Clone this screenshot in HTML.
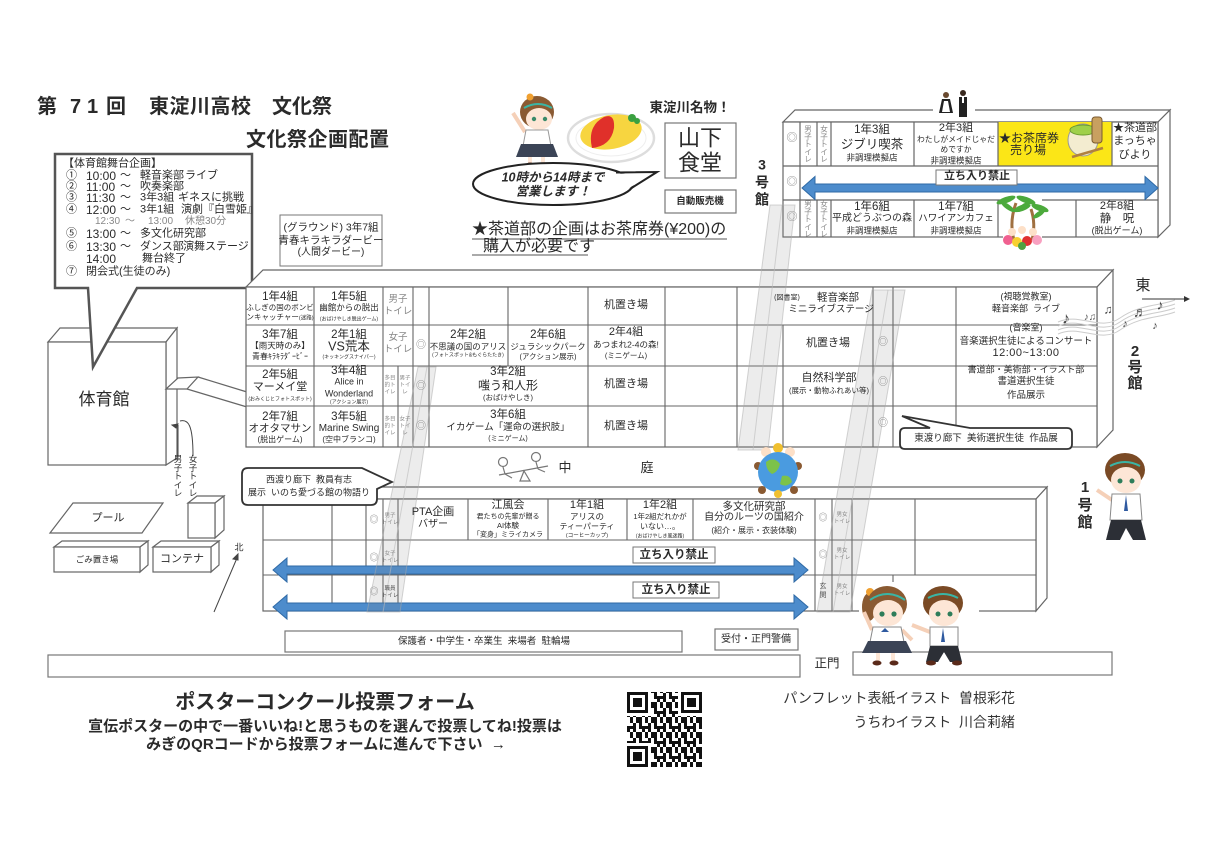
<!DOCTYPE html>
<html><head><meta charset="utf-8">
<style>
*{margin:0;padding:0;box-sizing:border-box}
body{width:1225px;height:862px;overflow:hidden;position:relative;background:#fff;font-family:"Liberation Sans","Noto Sans CJK JP",sans-serif;color:#2a2a2a}
svg{position:absolute;left:0;top:0}
.t{position:absolute;transform:translate(-50%,-50%);white-space:nowrap;line-height:1.05;text-align:center}
.l{position:absolute;transform:translateY(-50%);white-space:nowrap;line-height:1}
.r{position:absolute;transform:translate(-100%,-50%);white-space:nowrap;line-height:1}
.b{font-weight:bold}
.g{color:#888}
.v{position:absolute;transform:translate(-50%,-50%);line-height:1;text-align:center;white-space:nowrap}
</style></head><body>
<svg width="1225" height="862" viewBox="0 0 1225 862">
<defs>
<pattern id="qrp" width="15" height="15" patternUnits="userSpaceOnUse">
<rect width="15" height="15" fill="#fff"/>
<path d="M0 0h3v3H0zM6 0h6v3H6zM3 3h3v3H3zM9 3h3v6H9zM0 6h6v3H0zM12 6h3v3h-3zM3 9h3v3H3zM6 12h6v3H6zM12 9h3v3h-3zM0 12h3v3H0z" fill="#111"/>
</pattern>
</defs>

<!-- gym -->
<g stroke="#666" stroke-width="1.2" fill="#fff">
<polygon points="48,342 60,328 177,328 166,342"/>
<polygon points="166,342 177,328 177,458 166,465"/>
<rect x="48" y="342" width="118" height="123"/>
<polygon points="166,389 178,378 198,377 187,389"/>
<line x1="198" y1="377" x2="247" y2="392"/>
<line x1="187" y1="389" x2="247" y2="407"/>
<polygon points="50,533 73,503 163,503 142,533"/>
<polygon points="188,503 197,496 224,496 215,503"/>
<polygon points="215,503 224,496 224,530 215,538"/>
<rect x="188" y="503" width="27" height="35"/>
<polygon points="54,547 62,541 148,541 140,547"/>
<polygon points="140,547 148,541 148,565 140,572"/>
<rect x="54" y="547" width="86" height="25"/>
<polygon points="153,547 161,541 219,541 211,547"/>
<polygon points="211,547 219,541 219,565 211,572"/>
<rect x="153" y="547" width="58" height="25"/>
</g>
<g stroke="#444" stroke-width="1" fill="none">
<path d="M178,456 L178,425"/><path d="M178,424 l-6,1 l4,3 z" fill="#444"/>
<path d="M193,456 C193,424 188,419 180,421"/>
<path d="M214,612 L237,558"/><path d="M238,554 l-5,5 l5,1 z" fill="#444"/>
</g>

<!-- schedule bubble -->
<path d="M88,288 H55 V154 H252 V288 H137 L93,367 Z" fill="#fff" stroke="#555" stroke-width="2.5"/>
<rect x="280" y="215" width="102" height="51" fill="#fff" stroke="#777" stroke-width="1"/>

<!-- building 3 -->
<g stroke="#666" stroke-width="1.2" fill="#fff">
<polygon points="783,122 795,110 1170,110 1158,122"/>
<polygon points="1158,122 1170,110 1170,225 1158,237"/>
<rect x="783" y="122" width="375" height="115"/>
</g>
<rect x="998" y="122" width="114" height="44" fill="#fbe617"/>
<g stroke="#666" stroke-width="1.2" fill="none">
<path d="M783,166H1158M783,200H1158"/>
<path d="M800,122V237M817,122V166M831,122V166M914,122V166M998,122V166M1112,122V166"/>
<path d="M817,200V237M831,200V237M914,200V237M998,200V237M1076,200V237"/>
</g>
<rect x="933" y="106" width="42" height="8" fill="#fff"/>
<rect x="1003" y="197" width="39" height="6" fill="#fff"/>
<rect x="1003" y="234" width="39" height="6" fill="#fff"/>
<polygon points="802,188 815,176.5 815,184 1145,184 1145,176.5 1158,188 1145,199.5 1145,192 815,192 815,199.5" fill="#4d8ccc" stroke="#2f6aa6" stroke-width="1"/>
<rect x="936" y="170" width="81" height="15" fill="#fff" stroke="#777" stroke-width="1"/>
<!-- maid & butler -->
<circle cx="946" cy="95" r="3" fill="#6a4a30"/>
<path d="M942,99 H950 L953,113 H939 Z" fill="#222"/>
<path d="M944,101 H948 L950,112 H942 Z" fill="#fff"/>
<circle cx="963" cy="93" r="3" fill="#3a2a20"/>
<rect x="959" y="97" width="8" height="20" fill="#222"/>
<rect x="962" y="97" width="2" height="6" fill="#fff"/>
<!-- matcha -->
<ellipse cx="1083" cy="140" rx="15" ry="16" fill="#f3ecd0" stroke="#999"/>
<ellipse cx="1083" cy="130" rx="13" ry="5" fill="#9fd04a" stroke="#6a9a30"/>
<rect x="1092" y="117" width="10" height="26" rx="3" fill="#c8a060" stroke="#7a5a30"/>
<line x1="1072" y1="157" x2="1103" y2="148" stroke="#b08040" stroke-width="2.5"/>
<!-- palms -->
<g>
<path d="M1014,240 Q1009,222 1016,203" stroke="#a07040" stroke-width="3" fill="none"/>
<path d="M1032,240 Q1036,224 1031,209" stroke="#a07040" stroke-width="3" fill="none"/>
<g fill="#4caa3c">
<ellipse cx="1006" cy="200" rx="10" ry="3" transform="rotate(-20 1006 200)"/>
<ellipse cx="1026" cy="200" rx="10" ry="3" transform="rotate(20 1026 200)"/>
<ellipse cx="1008" cy="207" rx="8" ry="2.5" transform="rotate(35 1008 207)"/>
<ellipse cx="1023" cy="207" rx="8" ry="2.5" transform="rotate(-35 1023 207)"/>
<ellipse cx="1022" cy="208" rx="9" ry="3" transform="rotate(-20 1022 208)"/>
<ellipse cx="1040" cy="208" rx="9" ry="3" transform="rotate(20 1040 208)"/>
<ellipse cx="1039" cy="214" rx="7" ry="2.5" transform="rotate(-35 1039 214)"/>
</g>
<circle cx="1012" cy="232" r="4" fill="#fde0c8"/><circle cx="1022" cy="230" r="4" fill="#fde0c8"/><circle cx="1033" cy="232" r="4" fill="#fde0c8"/>
<circle cx="1008" cy="240" r="5" fill="#f06090"/><circle cx="1017" cy="242" r="5" fill="#f8d030"/><circle cx="1027" cy="241" r="5" fill="#e03030"/><circle cx="1037" cy="240" r="5" fill="#f8a0c0"/><circle cx="1022" cy="246" r="4" fill="#50a040"/>
</g>

<!-- main building -->
<g stroke="#666" stroke-width="1.2" fill="#fff">
<polygon points="246,287 263,270 1113,270 1097,287"/>
<polygon points="1097,287 1113,270 1113,430 1097,447"/>
<rect x="246" y="287" width="851" height="160"/>
</g>
<g stroke="#666" stroke-width="1.1" fill="none">
<path d="M246,325H1097M246,366H1097M246,406H1097"/>
<path d="M314,287V447M383,287V447M413,287V447M429,287V447M398,366V447M508,287V366M588,287V447M665,287V447M737,287V447M783,325V447M873,287V447M893,287V447M956,287V447"/>
</g>

<!-- east bubble -->
<path d="M905,428 H930 L902,416 L970,428 H1067 Q1072,428 1072,433 V444 Q1072,449 1067,449 H905 Q900,449 900,444 V433 Q900,428 905,428 Z" fill="#fff" stroke="#333" stroke-width="1.8"/>

<!-- east arrow & music -->
<line x1="1142" y1="299" x2="1186" y2="299" stroke="#333" stroke-width="1"/>
<path d="M1190,299 l-6,-3 v6 z" fill="#333"/>
<g stroke="#ccc" stroke-width="1" fill="none">
<path d="M1058,322 C1080,312 1100,332 1120,318 S1160,306 1175,300"/>
<path d="M1058,326 C1080,316 1100,336 1120,322 S1160,310 1175,304"/>
<path d="M1058,330 C1080,320 1100,340 1120,326 S1160,314 1175,308"/>
<path d="M1058,334 C1080,324 1100,344 1120,330 S1160,318 1175,312"/>
</g>

<!-- bottom building -->
<g stroke="#666" stroke-width="1.2" fill="#fff">
<polygon points="263,499 275,487 1047,487 1036,499"/>
<polygon points="1036,499 1047,487 1047,598 1036,611"/>
<rect x="263" y="499" width="773" height="112"/>
</g>
<rect x="859" y="608" width="120" height="6" fill="#fff"/>
<g stroke="#666" stroke-width="1.1" fill="none">
<path d="M263,540H1036M263,575H1036"/>
<path d="M332,499V611M366,499V611M383,499V611M398,499V611M815,499V611M832,499V611M852,499V611"/>
<path d="M468,499V540M548,499V540M627,499V540M693,499V540M915,499V575M893,575V582"/>
</g>
<polygon points="273,570 287,558 287,566 794,566 794,558 808,570 794,582 794,574 287,574 287,582" fill="#4d8ccc" stroke="#2f6aa6" stroke-width="1"/>
<polygon points="273,607 287,595 287,603 794,603 794,595 808,607 794,619 794,611 287,611 287,619" fill="#4d8ccc" stroke="#2f6aa6" stroke-width="1"/>
<rect x="633" y="547" width="82" height="16" fill="#fff" stroke="#777"/>
<rect x="633" y="582" width="86" height="16" fill="#fff" stroke="#777"/>

<!-- west bubble -->
<path d="M248,468 H362 L392,482 L377,489 V499 Q377,505 371,505 H248 Q242,505 242,499 V474 Q242,468 248,468 Z" fill="#fff" stroke="#333" stroke-width="1.8"/>

<!-- bottom boxes -->
<g stroke="#777" stroke-width="1.2" fill="#fff">
<rect x="285" y="631" width="397" height="21"/>
<rect x="715" y="629" width="83" height="21"/>
<rect x="48" y="655" width="752" height="22"/>
<rect x="853" y="652" width="259" height="23"/>
</g>

<!-- gray bands -->
<g fill="#8a8a8a" fill-opacity="0.16" stroke="#aaa" stroke-opacity="0.5" stroke-width="1">
<polygon points="770,205 795,205 768,450 738,450"/>
<polygon points="872,290 905,290 850,612 817,612"/>
<polygon points="418,367 436,367 400,612 367,612"/>
</g>
<g stroke="#bbb" stroke-opacity="0.6" fill="none">
<path d="M782,205 L753,450M888,290 L833,612M427,367 L383,612"/>
</g>

<!-- top girl -->
<g>
<ellipse cx="537" cy="112" rx="17" ry="16" fill="#8a5a32"/>
<circle cx="530" cy="97" r="3.5" fill="#f0a030"/>
<ellipse cx="539" cy="119" rx="13" ry="11" fill="#fde6d6"/>
<path d="M524,108 Q538,100 552,108" stroke="#3ab5a5" stroke-width="2" fill="none"/>
<circle cx="534" cy="119" r="2.2" fill="#3a8a6a"/><circle cx="545" cy="119" r="2.2" fill="#3a8a6a"/>
<line x1="525" y1="132" x2="513" y2="113" stroke="#f5d0b8" stroke-width="4"/>
<path d="M526,130 L548,130 L551,146 L523,146 Z" fill="#fff" stroke="#999"/>
<path d="M521,144 L553,144 L558,157 L516,157 Z" fill="#3b4456"/>
<rect x="528" y="157" width="4" height="7" fill="#fde6d6"/><rect x="541" y="157" width="4" height="7" fill="#fde6d6"/>
<ellipse cx="530" cy="165" rx="4" ry="2.5" fill="#5a2a1a"/><ellipse cx="543" cy="165" rx="4" ry="2.5" fill="#5a2a1a"/>
</g>
<!-- omelette -->
<ellipse cx="611" cy="138" rx="43" ry="24" fill="#fff" stroke="#ddd" stroke-width="2.5"/>
<ellipse cx="611" cy="138" rx="35" ry="18" fill="none" stroke="#eee" stroke-width="1"/>
<ellipse cx="611" cy="132" rx="31" ry="17" fill="#f7d540" transform="rotate(-10 611 132)"/>
<path d="M592,148 Q587,126 604,117 Q615,113 614,128 Q611,146 592,148 Z" fill="#e0302a"/>
<circle cx="632" cy="118" r="4" fill="#3aa040"/><circle cx="637" cy="121" r="3" fill="#3aa040"/>
<!-- speech bubble -->
<ellipse cx="553" cy="184" rx="80" ry="21" fill="#fff" stroke="#222" stroke-width="2"/>
<polygon points="615,174 657,172 629,188" fill="#fff"/>
<polyline points="616,172.5 657,172 630,189" fill="none" stroke="#222" stroke-width="2"/>
<rect x="665" y="123" width="71" height="55" fill="#fff" stroke="#777" stroke-width="1.2"/>
<rect x="665" y="190" width="71" height="23" fill="#fff" stroke="#777" stroke-width="1.2"/>
<line x1="472" y1="239" x2="727" y2="239" stroke="#777" stroke-width="1.3"/>
<line x1="472" y1="255" x2="588" y2="255" stroke="#777" stroke-width="1.3"/>

<!-- seesaw -->
<g stroke="#777" stroke-width="1.2" fill="none">
<line x1="499" y1="475" x2="548" y2="466"/>
<path d="M524,471 L520,481 L530,481 Z"/>
<circle cx="503" cy="462" r="4.5"/><path d="M503,467 L505,474 M505,474 L512,478"/>
<circle cx="536" cy="457" r="4.5"/><path d="M536,462 L538,469 M538,469 L545,472"/>
</g>

<!-- globe -->
<g>
<circle cx="766" cy="452" r="5" fill="#fde0c8"/><circle cx="778" cy="448" r="5" fill="#f0c030"/><circle cx="790" cy="452" r="5" fill="#fde0c8"/>
<circle cx="758" cy="466" r="4" fill="#8a5a32"/><circle cx="798" cy="466" r="4" fill="#8a5a32"/>
<circle cx="778" cy="472" r="20" fill="#4a9be0"/>
<path d="M766,462 q8,-6 14,2 q-2,8 -8,10 q-6,-4 -6,-12z" fill="#7cc24a"/>
<path d="M782,476 q8,-2 10,6 q-6,6 -12,2z" fill="#7cc24a"/>
<circle cx="762" cy="490" r="4" fill="#8a5a32"/><circle cx="778" cy="494" r="4" fill="#f0c030"/><circle cx="794" cy="490" r="4" fill="#8a5a32"/>
</g>

<!-- bottom girl -->
<g>
<ellipse cx="869" cy="607" rx="7" ry="14" fill="#8a5a32"/>
<circle cx="870" cy="592" r="4" fill="#f0a030"/>
<ellipse cx="887" cy="604" rx="20" ry="18" fill="#8a5a32"/>
<ellipse cx="888" cy="613" rx="15" ry="13" fill="#fde6d6"/>
<path d="M870,600 Q887,588 905,600" stroke="#3ab5a5" stroke-width="2" fill="none"/>
<circle cx="882" cy="614" r="2.6" fill="#2e7d5a"/><circle cx="894" cy="614" r="2.6" fill="#2e7d5a"/>
<line x1="872" y1="630" x2="864" y2="612" stroke="#f5d0b8" stroke-width="4"/>
<line x1="902" y1="630" x2="912" y2="640" stroke="#f5d0b8" stroke-width="4"/>
<path d="M873,627 L901,627 L904,642 L870,642 Z" fill="#fff" stroke="#888"/>
<path d="M885,628 l-4,4 h8 z" fill="#2f5aa0"/>
<path d="M868,641 L906,641 L912,653 L862,653 Z" fill="#3b4456"/>
<rect x="876" y="653" width="4" height="8" fill="#fde6d6"/><rect x="891" y="653" width="4" height="8" fill="#fde6d6"/>
<ellipse cx="877" cy="663" rx="4.5" ry="2.5" fill="#5a2a1a"/><ellipse cx="894" cy="663" rx="4.5" ry="2.5" fill="#5a2a1a"/>
</g>
<!-- bottom boy -->
<g>
<ellipse cx="943" cy="603" rx="20" ry="17" fill="#7a4a25"/>
<ellipse cx="944" cy="613" rx="15" ry="13" fill="#fde6d6"/>
<path d="M928,598 Q943,590 958,598" stroke="#3ab5a5" stroke-width="2" fill="none"/>
<circle cx="938" cy="614" r="2.5" fill="#2e7d5a"/><circle cx="950" cy="614" r="2.5" fill="#2e7d5a"/>
<line x1="930" y1="632" x2="912" y2="625" stroke="#f5d0b8" stroke-width="4"/>
<path d="M930,627 L958,627 L958,646 L930,646 Z" fill="#fff" stroke="#888"/>
<path d="M943,628 l-2,14 h4 z" fill="#2f5aa0"/>
<path d="M930,646 H958 L962,662 H950 L944,652 L938,662 H926 Z" fill="#2c2f36"/>
<ellipse cx="931" cy="663" rx="5" ry="2.5" fill="#5a2a1a"/><ellipse cx="957" cy="663" rx="5" ry="2.5" fill="#5a2a1a"/>
</g>
<!-- right boy -->
<g>
<ellipse cx="1125" cy="470" rx="20" ry="17" fill="#7a4a25"/>
<ellipse cx="1126" cy="480" rx="15" ry="13" fill="#fde6d6"/>
<path d="M1110,466 Q1125,458 1140,466" stroke="#3ab5a5" stroke-width="2" fill="none"/>
<circle cx="1120" cy="481" r="2.5" fill="#2e7d5a"/><circle cx="1132" cy="481" r="2.5" fill="#2e7d5a"/>
<line x1="1112" y1="500" x2="1097" y2="490" stroke="#f5d0b8" stroke-width="4"/>
<path d="M1112,494 L1140,494 L1142,520 L1110,520 Z" fill="#fff" stroke="#888"/>
<path d="M1126,495 l-2,16 h4 z" fill="#2f5aa0"/>
<path d="M1111,520 H1141 L1146,540 H1133 L1126,528 L1120,540 H1106 Z" fill="#2c2f36"/>
</g>

<!-- QR -->
<rect x="627" y="692" width="75" height="75" fill="url(#qrp)"/>
<g>
<rect x="627" y="692" width="24" height="24" fill="#fff"/><rect x="627" y="692" width="21" height="21" fill="#111"/><rect x="630" y="695" width="15" height="15" fill="#fff"/><rect x="633" y="698" width="9" height="9" fill="#111"/>
<rect x="678" y="692" width="24" height="24" fill="#fff"/><rect x="681" y="692" width="21" height="21" fill="#111"/><rect x="684" y="695" width="15" height="15" fill="#fff"/><rect x="687" y="698" width="9" height="9" fill="#111"/>
<rect x="627" y="743" width="24" height="24" fill="#fff"/><rect x="627" y="746" width="21" height="21" fill="#111"/><rect x="630" y="749" width="15" height="15" fill="#fff"/><rect x="633" y="752" width="9" height="9" fill="#111"/>
</g>
</svg>

<!-- title -->
<div class="l b" style="left:37px;top:107px;font-size:20px">第</div>
<div class="l b" style="left:70px;top:107px;font-size:20px">7</div>
<div class="l b" style="left:87px;top:107px;font-size:20px">1</div>
<div class="l b" style="left:106px;top:107px;font-size:20px">回</div>
<div class="l b" style="left:149px;top:107px;font-size:20px;letter-spacing:0.5px">東淀川高校</div>
<div class="l b" style="left:272px;top:107px;font-size:20px">文化祭</div>
<div class="l b" style="left:246px;top:140px;font-size:20px;letter-spacing:0.5px">文化祭企画配置</div>

<!-- schedule -->
<div style="font-size:11px">
<div class="l" style="left:63px;top:164px">【体育館舞台企画】</div>
<div class="l" style="left:66px;top:176px">①</div><div class="l" style="left:86px;top:176px;font-size:12px">10:00</div><div class="l" style="left:120px;top:176px">～</div><div class="l" style="left:140px;top:176px">軽音楽部</div><div class="l" style="left:185px;top:176px">ライブ</div>
<div class="l" style="left:66px;top:187px">②</div><div class="l" style="left:86px;top:187px;font-size:12px">11:00</div><div class="l" style="left:120px;top:187px">～</div><div class="l" style="left:140px;top:187px">吹奏楽部</div>
<div class="l" style="left:66px;top:198px">③</div><div class="l" style="left:86px;top:198px;font-size:12px">11:30</div><div class="l" style="left:120px;top:198px">～</div><div class="l" style="left:140px;top:198px">3年3組</div><div class="l" style="left:178px;top:198px">ギネスに挑戦</div>
<div class="l" style="left:66px;top:210px">④</div><div class="l" style="left:86px;top:210px;font-size:12px">12:00</div><div class="l" style="left:120px;top:210px">～</div><div class="l" style="left:140px;top:210px">3年1組</div><div class="l" style="left:181px;top:210px">演劇『白雪姫』</div>
<div class="l g" style="left:95px;top:222px;font-size:10px">12:30</div><div class="l g" style="left:125px;top:222px;font-size:10px">～</div><div class="l g" style="left:148px;top:222px;font-size:10px">13:00</div><div class="l g" style="left:185px;top:222px;font-size:10px">休憩30分</div>
<div class="l" style="left:66px;top:234px">⑤</div><div class="l" style="left:86px;top:234px;font-size:12px">13:00</div><div class="l" style="left:120px;top:234px">～</div><div class="l" style="left:140px;top:234px">多文化研究部</div>
<div class="l" style="left:66px;top:247px">⑥</div><div class="l" style="left:86px;top:247px;font-size:12px">13:30</div><div class="l" style="left:120px;top:247px">～</div><div class="l" style="left:140px;top:247px">ダンス部</div><div class="l" style="left:183px;top:247px">演舞ステージ</div>
<div class="l" style="left:86px;top:259px;font-size:12px">14:00</div><div class="l" style="left:142px;top:259px">舞台終了</div>
<div class="l" style="left:66px;top:272px">⑦</div><div class="l" style="left:86px;top:272px">閉会式(生徒のみ)</div>
</div>

<!-- ground -->
<div class="t" style="left:331px;top:228px;font-size:10.5px">(グラウンド) 3年7組</div>
<div class="t" style="left:331px;top:241px;font-size:10.5px">青春キラキラダービー</div>
<div class="t" style="left:331px;top:253px;font-size:10px">(人間ダービー)</div>

<!-- middle top -->
<div class="t b" style="left:553px;top:178px;font-size:12.5px;font-style:italic">10時から14時まで</div>
<div class="t b" style="left:553px;top:192px;font-size:12.5px;font-style:italic">営業します！</div>
<div class="t b" style="left:690px;top:108px;font-size:13.5px">東淀川名物！</div>
<div class="t" style="left:700px;top:138px;font-size:22px">山下</div>
<div class="t" style="left:700px;top:163px;font-size:22px">食堂</div>
<div class="t b" style="left:700px;top:202px;font-size:9.5px">自動販売機</div>
<div class="t b" style="left:762px;top:165px;font-size:14px">3</div>
<div class="t b" style="left:762px;top:183px;font-size:14px">号</div>
<div class="t b" style="left:762px;top:200px;font-size:14px">館</div>
<div class="l" style="left:472px;top:230px;font-size:16px">★茶道部の企画はお茶席券(¥200)の</div>
<div class="l" style="left:483px;top:247px;font-size:16px">購入が必要です</div>

<!-- building 3 texts -->
<div class="t g" style="left:792px;top:139px;font-size:11px">◎</div>
<div class="t g" style="left:792px;top:183px;font-size:11px">◎</div>
<div class="t g" style="left:792px;top:218px;font-size:11px">◎</div>
<div class="v g" style="left:808px;top:144px;font-size:7.5px">男<br>子<br>ト<br>イ<br>レ</div>
<div class="v g" style="left:824px;top:144px;font-size:7.5px">女<br>子<br>ト<br>イ<br>レ</div>
<div class="v g" style="left:808px;top:219px;font-size:7.5px">男<br>子<br>ト<br>イ<br>レ</div>
<div class="v g" style="left:824px;top:219px;font-size:7.5px">女<br>子<br>ト<br>イ<br>レ</div>
<div class="t" style="left:872px;top:130px;font-size:11.5px">1年3組</div>
<div class="t" style="left:872px;top:145px;font-size:12.5px">ジブリ喫茶</div>
<div class="t" style="left:872px;top:158px;font-size:8.5px">非調理模擬店</div>
<div class="t" style="left:956px;top:129px;font-size:11px">2年3組</div>
<div class="t" style="left:956px;top:140px;font-size:7.8px">わたしがメイドじゃだ</div>
<div class="t" style="left:956px;top:150px;font-size:7.8px">めですか</div>
<div class="t" style="left:956px;top:161px;font-size:8.5px">非調理模擬店</div>
<div class="l" style="left:999px;top:138px;font-size:12px">★お茶席券</div>
<div class="l" style="left:1010px;top:150px;font-size:12px">売り場</div>
<div class="t" style="left:1135px;top:129px;font-size:11px">★茶道部</div>
<div class="t" style="left:1135px;top:142px;font-size:11px">まっちゃ</div>
<div class="t" style="left:1135px;top:156px;font-size:11px">びより</div>
<div class="t b" style="left:977px;top:177px;font-size:11px">立ち入り禁止</div>
<div class="t" style="left:872px;top:207px;font-size:11.5px">1年6組</div>
<div class="t" style="left:872px;top:219px;font-size:10px">平成どうぶつの森</div>
<div class="t" style="left:872px;top:231px;font-size:8.5px">非調理模擬店</div>
<div class="t" style="left:956px;top:207px;font-size:11.5px">1年7組</div>
<div class="t" style="left:956px;top:219px;font-size:9.5px">ハワイアンカフェ</div>
<div class="t" style="left:956px;top:231px;font-size:8.5px">非調理模擬店</div>
<div class="t" style="left:1117px;top:207px;font-size:11px">2年8組</div>
<div class="t" style="left:1117px;top:219px;font-size:11.5px">静　呪</div>
<div class="t" style="left:1117px;top:231px;font-size:9px">(脱出ゲーム)</div>

<!-- main building texts -->
<div class="t" style="left:280px;top:297px;font-size:11.5px">1年4組</div>
<div class="t" style="left:280px;top:308px;font-size:7.5px">ふしぎの国のボンビ</div>
<div class="t" style="left:280px;top:318px;font-size:7.5px">ンキャッチャー<span style="font-size:5.5px">(迷路)</span></div>
<div class="t" style="left:349px;top:297px;font-size:11.5px">1年5組</div>
<div class="t" style="left:349px;top:308px;font-size:8.5px">幽館からの脱出</div>
<div class="t" style="left:349px;top:320px;font-size:5px">(おばけやしき脱出ゲーム)</div>
<div class="t g" style="left:398px;top:300px;font-size:9.5px">男子</div>
<div class="t g" style="left:398px;top:312px;font-size:9.5px">トイレ</div>
<div class="t" style="left:280px;top:335px;font-size:11.5px">3年7組</div>
<div class="t" style="left:280px;top:346px;font-size:8.5px">【雨天時のみ】</div>
<div class="t" style="left:280px;top:357px;font-size:8px">青春ｷﾗｷﾗﾀﾞｰﾋﾞｰ</div>
<div class="t" style="left:349px;top:335px;font-size:11.5px">2年1組</div>
<div class="t" style="left:349px;top:347px;font-size:12.5px">VS荒本</div>
<div class="t" style="left:349px;top:358px;font-size:5px">(キッキングスナイパー)</div>
<div class="t g" style="left:398px;top:338px;font-size:9.5px">女子</div>
<div class="t g" style="left:398px;top:350px;font-size:9.5px">トイレ</div>
<div class="t g" style="left:421px;top:346px;font-size:10px">◎</div>
<div class="t" style="left:468px;top:335px;font-size:11.5px">2年2組</div>
<div class="t" style="left:468px;top:347px;font-size:8.5px">不思議の国のアリス</div>
<div class="t" style="left:468px;top:356px;font-size:5px">(フォトスポット&amp;もぐらたたき)</div>
<div class="t" style="left:548px;top:335px;font-size:11.5px">2年6組</div>
<div class="t" style="left:548px;top:347px;font-size:8.5px">ジュラシックパーク</div>
<div class="t" style="left:548px;top:357px;font-size:7.5px">(アクション展示)</div>
<div class="t" style="left:626px;top:306px;font-size:11px">机置き場</div>
<div class="t" style="left:626px;top:333px;font-size:11px">2年4組</div>
<div class="t" style="left:626px;top:345px;font-size:8.5px">あつまれ2-4の森!</div>
<div class="t" style="left:626px;top:356px;font-size:7.5px">(ミニゲーム)</div>
<div class="t" style="left:626px;top:385px;font-size:11px">机置き場</div>
<div class="t" style="left:626px;top:427px;font-size:11px">机置き場</div>
<div class="t" style="left:787px;top:298px;font-size:7px">(図書室)</div>
<div class="t" style="left:838px;top:298px;font-size:10.5px">軽音楽部</div>
<div class="t" style="left:831px;top:310px;font-size:9.5px">ミニライブステージ</div>
<div class="t" style="left:828px;top:344px;font-size:11px">机置き場</div>
<div class="t" style="left:829px;top:379px;font-size:11px">自然科学部</div>
<div class="t" style="left:829px;top:391px;font-size:7.5px">(展示・動物ふれあい等)</div>
<div class="t g" style="left:883px;top:343px;font-size:10px">◎</div>
<div class="t g" style="left:883px;top:383px;font-size:10px">◎</div>
<div class="t g" style="left:883px;top:424px;font-size:10px">◎</div>
<div class="t" style="left:1026px;top:297px;font-size:9px">(視聴覚教室)</div>
<div class="t" style="left:1026px;top:309px;font-size:9px">軽音楽部&nbsp;&nbsp;ライブ</div>
<div class="t" style="left:1026px;top:328px;font-size:9px">(音楽室)</div>
<div class="t" style="left:1026px;top:342px;font-size:9.5px">音楽選択生徒によるコンサート</div>
<div class="t" style="left:1026px;top:354px;font-size:11px;letter-spacing:0.5px">12:00~13:00</div>
<div class="t" style="left:1026px;top:370px;font-size:9px">書道部・美術部・イラスト部</div>
<div class="t" style="left:1026px;top:382px;font-size:9.5px">書道選択生徒</div>
<div class="t" style="left:1026px;top:396px;font-size:9.5px">作品展示</div>
<div class="t" style="left:986px;top:439px;font-size:9.5px">東渡り廊下&nbsp;&nbsp;美術選択生徒&nbsp;&nbsp;作品展</div>
<div class="t" style="left:280px;top:375px;font-size:11.5px">2年5組</div>
<div class="t" style="left:280px;top:388px;font-size:11px">マーメイ堂</div>
<div class="t" style="left:280px;top:400px;font-size:5px">(おみくじとフォトスポット)</div>
<div class="t" style="left:349px;top:371px;font-size:11.5px">3年4組</div>
<div class="t" style="left:349px;top:382px;font-size:9px">Alice in</div>
<div class="t" style="left:349px;top:394px;font-size:9px">Wonderland</div>
<div class="t" style="left:349px;top:403px;font-size:5px">(アクション展示)</div>
<div class="v g" style="left:390px;top:386px;font-size:5.5px;line-height:7px">多目<br>的ト<br>イレ</div>
<div class="v g" style="left:405px;top:386px;font-size:5.5px;line-height:7px">男子<br>トイ<br>レ</div>
<div class="v g" style="left:390px;top:427px;font-size:5.5px;line-height:7px">多目<br>的ト<br>イレ</div>
<div class="v g" style="left:405px;top:427px;font-size:5.5px;line-height:7px">女子<br>トイ<br>レ</div>
<div class="t g" style="left:421px;top:387px;font-size:10px">◎</div>
<div class="t g" style="left:421px;top:427px;font-size:10px">◎</div>
<div class="t" style="left:508px;top:372px;font-size:11.5px">3年2組</div>
<div class="t" style="left:508px;top:386px;font-size:12px">嗤う和人形</div>
<div class="t" style="left:508px;top:398px;font-size:7.5px">(おばけやしき)</div>
<div class="t" style="left:280px;top:417px;font-size:11.5px">2年7組</div>
<div class="t" style="left:280px;top:429px;font-size:10.5px">オオタマサン</div>
<div class="t" style="left:280px;top:440px;font-size:8px">(脱出ゲーム)</div>
<div class="t" style="left:349px;top:417px;font-size:11.5px">3年5組</div>
<div class="t" style="left:349px;top:429px;font-size:10px">Marine Swing</div>
<div class="t" style="left:349px;top:440px;font-size:8px">(空中ブランコ)</div>
<div class="t" style="left:508px;top:415px;font-size:11.5px">3年6組</div>
<div class="t" style="left:508px;top:428px;font-size:9.5px">イカゲーム「運命の選択肢」</div>
<div class="t" style="left:508px;top:439px;font-size:7px">(ミニゲーム)</div>

<!-- 2号館 / east -->
<div class="t" style="left:1143px;top:286px;font-size:15px">東</div>
<div class="t b" style="left:1135px;top:352px;font-size:15px">2</div>
<div class="t b" style="left:1135px;top:368px;font-size:15px">号</div>
<div class="t b" style="left:1135px;top:384px;font-size:15px">館</div>
<div class="t" style="left:1066px;top:320px;font-size:16px;color:#444">♪</div>
<div class="t" style="left:1090px;top:318px;font-size:10px;color:#555">♪♫</div>
<div class="t" style="left:1108px;top:310px;font-size:12px;color:#444">♫</div>
<div class="t" style="left:1125px;top:325px;font-size:11px;color:#444">♪</div>
<div class="t" style="left:1140px;top:312px;font-size:14px;color:#444">♬</div>
<div class="t" style="left:1160px;top:305px;font-size:14px;color:#444">♪</div>
<div class="t" style="left:1155px;top:327px;font-size:11px;color:#444">♪</div>

<!-- gym labels -->
<div class="t" style="left:104px;top:400px;font-size:17px">体育館</div>
<div class="v" style="left:178px;top:476px;font-size:8.5px;line-height:8.5px">男<br>子<br>ト<br>イ<br>レ</div>
<div class="v" style="left:193px;top:476px;font-size:8.5px;line-height:8.5px">女<br>子<br>ト<br>イ<br>レ</div>
<div class="t" style="left:108px;top:519px;font-size:11px">プール</div>
<div class="t" style="left:97px;top:560px;font-size:8.5px">ごみ置き場</div>
<div class="t" style="left:182px;top:560px;font-size:11px">コンテナ</div>
<div class="t" style="left:239px;top:548px;font-size:9px">北</div>

<!-- bottom building texts -->
<div class="t" style="left:565px;top:468px;font-size:13px">中</div>
<div class="t" style="left:647px;top:468px;font-size:13px">庭</div>
<div class="t" style="left:309px;top:480px;font-size:9px">西渡り廊下&nbsp;&nbsp;教員有志</div>
<div class="t" style="left:309px;top:493px;font-size:9px">展示&nbsp;&nbsp;いのち愛づる館の物語り</div>
<div class="t g" style="left:374px;top:520px;font-size:9px">◎</div>
<div class="t g" style="left:374px;top:558px;font-size:9px">◎</div>
<div class="t g" style="left:374px;top:592px;font-size:9px">◎</div>
<div class="v g" style="left:390px;top:520px;font-size:5.5px;line-height:7px">男子<br>トイレ</div>
<div class="v g" style="left:390px;top:558px;font-size:5.5px;line-height:7px">女子<br>トイレ</div>
<div class="v" style="left:390px;top:593px;font-size:5.5px;line-height:7px;color:#555">職員<br>トイレ</div>
<div class="t" style="left:433px;top:513px;font-size:11px">PTA企画</div>
<div class="t" style="left:433px;top:525px;font-size:10px">バザー</div>
<div class="t" style="left:508px;top:506px;font-size:11px">江風会</div>
<div class="t" style="left:508px;top:517px;font-size:7px">君たちの先輩が贈る</div>
<div class="t" style="left:508px;top:526px;font-size:7.5px">AI体験</div>
<div class="t" style="left:508px;top:535px;font-size:7px">「変身」ミライカメラ</div>
<div class="t" style="left:587px;top:506px;font-size:11px">1年1組</div>
<div class="t" style="left:587px;top:517px;font-size:8.5px">アリスの</div>
<div class="t" style="left:587px;top:527px;font-size:8px">ティーパーティ</div>
<div class="t" style="left:587px;top:537px;font-size:5.5px">(コーヒーカップ)</div>
<div class="t" style="left:660px;top:506px;font-size:11px">1年2組</div>
<div class="t" style="left:660px;top:517px;font-size:7.5px">1年2組だれかが</div>
<div class="t" style="left:660px;top:527px;font-size:8px">いない…。</div>
<div class="t" style="left:660px;top:537px;font-size:5px">(おばけやしき風迷路)</div>
<div class="t" style="left:754px;top:507px;font-size:10.5px">多文化研究部</div>
<div class="t" style="left:754px;top:518px;font-size:10px">自分のルーツの国紹介</div>
<div class="t" style="left:754px;top:531px;font-size:8px">(紹介・展示・衣装体験)</div>
<div class="t g" style="left:823px;top:518px;font-size:9px">◎</div>
<div class="t g" style="left:823px;top:555px;font-size:9px">◎</div>
<div class="v" style="left:823px;top:591px;font-size:7px;line-height:9px;color:#555">玄<br>関</div>
<div class="v g" style="left:842px;top:519px;font-size:5.5px;line-height:7px">男女<br>トイレ</div>
<div class="v g" style="left:842px;top:555px;font-size:5.5px;line-height:7px">男女<br>トイレ</div>
<div class="v g" style="left:842px;top:591px;font-size:5.5px;line-height:7px">男女<br>トイレ</div>
<div class="t b" style="left:674px;top:555px;font-size:11.5px">立ち入り禁止</div>
<div class="t b" style="left:676px;top:590px;font-size:11.5px">立ち入り禁止</div>
<div class="t" style="left:484px;top:642px;font-size:9.5px">保護者・中学生・卒業生&nbsp;&nbsp;来場者&nbsp;&nbsp;駐輪場</div>
<div class="t" style="left:756px;top:640px;font-size:10px">受付・正門警備</div>
<div class="t" style="left:827px;top:664px;font-size:12.5px">正門</div>
<div class="t b" style="left:1085px;top:488px;font-size:15px">1</div>
<div class="t b" style="left:1085px;top:506px;font-size:15px">号</div>
<div class="t b" style="left:1085px;top:523px;font-size:15px">館</div>

<!-- bottom texts -->
<div class="t b" style="left:325px;top:703px;font-size:20px">ポスターコンクール投票フォーム</div>
<div class="t b" style="left:325px;top:727px;font-size:15px">宣伝ポスターの中で一番いいね!と思うものを選んで投票してね!投票は</div>
<div class="t b" style="left:326px;top:745px;font-size:15px">みぎのQRコードから投票フォームに進んで下さい&nbsp;&nbsp;→</div>
<div class="r" style="left:1015px;top:698px;font-size:14px;color:#333">パンフレット表紙イラスト&nbsp;&nbsp;曽根彩花</div>
<div class="r" style="left:1015px;top:722px;font-size:14px;color:#333">うちわイラスト&nbsp;&nbsp;川合莉緒</div>
</body></html>
